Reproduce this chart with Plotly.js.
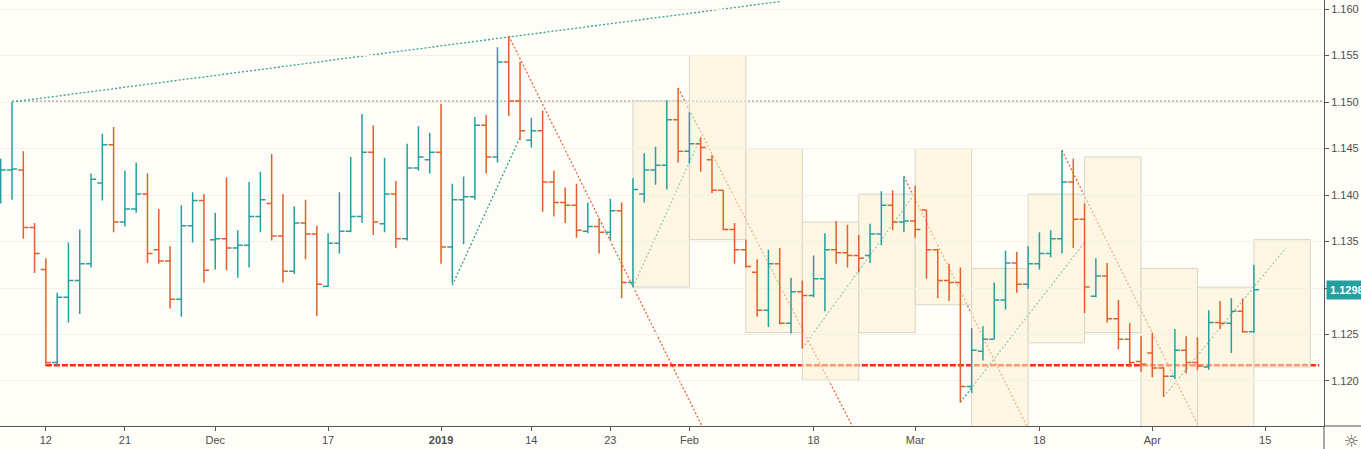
<!DOCTYPE html>
<html>
<head>
<meta charset="utf-8">
<script src="https://cdn.plot.ly/plotly-3.0.1.min.js"></script>
<style>
  html, body { margin: 0; padding: 0; background: #fffdf7; }
  #chart { width: 1361px; height: 449px; }
</style>
</head>
<body>
<div id="chart"></div>
<script>
// Daily EUR/USD bars
const dates = [
  '2018-11-06','2018-11-07','2018-11-08','2018-11-09',
  '2018-11-12','2018-11-13','2018-11-14','2018-11-15','2018-11-16',
  '2018-11-19','2018-11-20','2018-11-21','2018-11-22','2018-11-23',
  '2018-11-26','2018-11-27','2018-11-28','2018-11-29','2018-11-30',
  '2018-12-03','2018-12-04','2018-12-05','2018-12-06','2018-12-07',
  '2018-12-10','2018-12-11','2018-12-12','2018-12-13','2018-12-14',
  '2018-12-17','2018-12-18','2018-12-19','2018-12-20','2018-12-21',
  '2018-12-24','2018-12-26','2018-12-27','2018-12-28',
  '2018-12-31','2019-01-02','2019-01-03','2019-01-04',
  '2019-01-07','2019-01-08','2019-01-09','2019-01-10','2019-01-11',
  '2019-01-14','2019-01-15','2019-01-16','2019-01-17','2019-01-18',
  '2019-01-21','2019-01-22','2019-01-23','2019-01-24','2019-01-25',
  '2019-01-28','2019-01-29','2019-01-30','2019-01-31','2019-02-01',
  '2019-02-04','2019-02-05','2019-02-06','2019-02-07','2019-02-08',
  '2019-02-11','2019-02-12','2019-02-13','2019-02-14','2019-02-15',
  '2019-02-18','2019-02-19','2019-02-20','2019-02-21','2019-02-22',
  '2019-02-25','2019-02-26','2019-02-27','2019-02-28','2019-03-01',
  '2019-03-04','2019-03-05','2019-03-06','2019-03-07','2019-03-08',
  '2019-03-11','2019-03-12','2019-03-13','2019-03-14','2019-03-15',
  '2019-03-18','2019-03-19','2019-03-20','2019-03-21','2019-03-22',
  '2019-03-25','2019-03-26','2019-03-27','2019-03-28','2019-03-29',
  '2019-04-01','2019-04-02','2019-04-03','2019-04-04','2019-04-05',
  '2019-04-08','2019-04-09','2019-04-10','2019-04-11','2019-04-12'
];
const opens = [
  1.1408, 1.1427, 1.1427, 1.1365,
  1.1320, 1.1220, 1.1290, 1.1308, 1.1326,
  1.1413, 1.1454, 1.1371, 1.1385, 1.1401,
  1.1341, 1.1329, 1.1288, 1.1367, 1.1394,
  1.1352, 1.1353, 1.1343, 1.1346, 1.1377,
  1.1391, 1.1356, 1.1318, 1.1370, 1.1358,
  1.1302, 1.1348, 1.1361, 1.1377, 1.1446,
  1.1369, 1.1401, 1.1353, 1.1429,
  1.1438, 1.1446, 1.1344, 1.1395,
  1.1398, 1.1475, 1.1441, 1.1543, 1.1501,
  1.1459, 1.1469, 1.1414, 1.1392, 1.1389,
  1.1361, 1.1366, 1.1360, 1.1383, 1.1306,
  1.1401, 1.1427, 1.1432, 1.1481, 1.1447,
  1.1455, 1.1438, 1.1405, 1.1363, 1.1341,
  1.1317, 1.1276, 1.1326, 1.1262, 1.1296,
  1.1292, 1.1310, 1.1341, 1.1338, 1.1335,
  1.1335, 1.1358, 1.1389, 1.1371, 1.1372,
  1.1384, 1.1341, 1.1308, 1.1306, 1.1194,
  1.1232, 1.1245, 1.1287, 1.1327, 1.1304,
  1.1326, 1.1337, 1.1353, 1.1414, 1.1374,
  1.1291, 1.1313, 1.1267, 1.1245, 1.1221,
  1.1230, 1.1214, 1.1205, 1.1233, 1.1220,
  1.1215, 1.1263, 1.1262, 1.1275, 1.1253
];
const highs = [
  1.1439, 1.1500, 1.1447, 1.1370,
  1.1332, 1.1295, 1.1349, 1.1363, 1.1423,
  1.1466, 1.1473, 1.1426, 1.1435, 1.1423,
  1.1385, 1.1345, 1.1389, 1.1403, 1.1401,
  1.1381, 1.1419, 1.1362, 1.1414, 1.1425,
  1.1444, 1.1401, 1.1388, 1.1395, 1.1367,
  1.1359, 1.1403, 1.1441, 1.1487, 1.1475,
  1.1440, 1.1415, 1.1455, 1.1474,
  1.1467, 1.1498, 1.1412, 1.1420,
  1.1484, 1.1486, 1.1559, 1.1571, 1.1543,
  1.1483, 1.1491, 1.1426, 1.1408, 1.1412,
  1.1392, 1.1375, 1.1396, 1.1392, 1.1418,
  1.1445, 1.1452, 1.1502, 1.1515, 1.1489,
  1.1462, 1.1443, 1.1405, 1.1370, 1.1352,
  1.1331, 1.1341, 1.1343, 1.1311, 1.1308,
  1.1335, 1.1359, 1.1372, 1.1368, 1.1357,
  1.1369, 1.1404, 1.1405, 1.1420, 1.1410,
  1.1384, 1.1342, 1.1326, 1.1322, 1.1257,
  1.1259, 1.1306, 1.1340, 1.1339, 1.1345,
  1.1360, 1.1362, 1.1448, 1.1439, 1.1391,
  1.1332, 1.1327, 1.1287, 1.1262, 1.1248,
  1.1252, 1.1215, 1.1256, 1.1248, 1.1247,
  1.1276, 1.1286, 1.1289, 1.1289, 1.1325
];
const lows = [
  1.1391, 1.1395, 1.1353, 1.1316,
  1.1216, 1.1216, 1.1263, 1.1272, 1.1322,
  1.1394, 1.1360, 1.1366, 1.1381, 1.1327,
  1.1326, 1.1278, 1.1269, 1.1349, 1.1306,
  1.1320, 1.1319, 1.1311, 1.1322, 1.1360,
  1.1351, 1.1306, 1.1315, 1.1331, 1.1270,
  1.1301, 1.1337, 1.1360, 1.1370, 1.1357,
  1.1360, 1.1343, 1.1351, 1.1426,
  1.1423, 1.1326, 1.1305, 1.1347,
  1.1395, 1.1423, 1.1435, 1.1485, 1.1459,
  1.1451, 1.1382, 1.1377, 1.1370, 1.1354,
  1.1359, 1.1337, 1.1351, 1.1289, 1.1301,
  1.1392, 1.1411, 1.1406, 1.1435, 1.1434,
  1.1425, 1.1402, 1.1362, 1.1326, 1.1322,
  1.1269, 1.1258, 1.1261, 1.1251, 1.1235,
  1.1290, 1.1275, 1.1326, 1.1322, 1.1317,
  1.1327, 1.1346, 1.1362, 1.1360, 1.1354,
  1.1310, 1.1289, 1.1286, 1.1177, 1.1187,
  1.1222, 1.1245, 1.1277, 1.1295, 1.1299,
  1.1320, 1.1333, 1.1337, 1.1343, 1.1273,
  1.1290, 1.1263, 1.1234, 1.1215, 1.1210,
  1.1204, 1.1183, 1.1202, 1.1208, 1.1212,
  1.1212, 1.1256, 1.1230, 1.1252, 1.1252
];
const closes = [
  1.1427, 1.1428, 1.1365, 1.1337,
  1.1220, 1.1290, 1.1308, 1.1326, 1.1417,
  1.1454, 1.1371, 1.1385, 1.1401, 1.1337,
  1.1329, 1.1288, 1.1367, 1.1394, 1.1319,
  1.1353, 1.1343, 1.1346, 1.1377, 1.1395,
  1.1356, 1.1318, 1.1370, 1.1358, 1.1304,
  1.1348, 1.1361, 1.1377, 1.1446, 1.1371,
  1.1401, 1.1353, 1.1429, 1.1441,
  1.1446, 1.1344, 1.1395, 1.1398,
  1.1475, 1.1441, 1.1543, 1.1501, 1.1469,
  1.1469, 1.1414, 1.1392, 1.1389, 1.1362,
  1.1366, 1.1360, 1.1383, 1.1306, 1.1406,
  1.1427, 1.1432, 1.1481, 1.1447, 1.1455,
  1.1451, 1.1405, 1.1363, 1.1341, 1.1323,
  1.1276, 1.1326, 1.1262, 1.1296, 1.1292,
  1.1310, 1.1341, 1.1338, 1.1335, 1.1332,
  1.1358, 1.1389, 1.1371, 1.1372, 1.1363,
  1.1341, 1.1308, 1.1306, 1.1194, 1.1233,
  1.1245, 1.1287, 1.1327, 1.1304, 1.1326,
  1.1337, 1.1353, 1.1414, 1.1374, 1.1301,
  1.1313, 1.1267, 1.1245, 1.1220, 1.1218,
  1.1214, 1.1205, 1.1233, 1.1220, 1.1216,
  1.1263, 1.1262, 1.1275, 1.1253, 1.1298
];

// Drawings on the chart: [startDate, startPrice, endDate, endPrice]
const tealTrendLines = [
  ['2018-11-07', 1.1500, '2019-02-13', 1.1608],
  ['2019-01-03', 1.1303, '2019-01-11', 1.1462],
  ['2019-01-25', 1.1301, '2019-02-04', 1.1462],
  ['2019-02-15', 1.1235, '2019-03-01', 1.1402],
  ['2019-03-07', 1.1177, '2019-03-22', 1.1349],
  ['2019-04-02', 1.1183, '2019-04-16 20:00', 1.1343]
];
const orangeTrendLines = [
  ['2019-01-10', 1.1571, '2019-02-05', 1.1130],
  ['2019-01-31', 1.1515, '2019-02-22', 1.1138],
  ['2019-02-28', 1.1420, '2019-03-18', 1.1124],
  ['2019-03-20', 1.1448, '2019-04-08', 1.1129]
];
// Horizontal levels: [startDate, endDate, price]
const resistanceLevel = ['2018-11-07', '2019-05-01', 1.1501];
const supportLevel = ['2018-11-12', '2019-04-19 19:00', 1.1217];
// Weekly range boxes: [fromDate, toDate, low, high]
const weeklyBoxes = [
  ['2019-01-25', '2019-02-01', 1.1301, 1.1501],
  ['2019-02-01', '2019-02-08', 1.1352, 1.1550],
  ['2019-02-08', '2019-02-15', 1.1252, 1.1450],
  ['2019-02-15', '2019-02-22', 1.1201, 1.1371],
  ['2019-02-22', '2019-03-01', 1.1252, 1.1401],
  ['2019-03-01', '2019-03-08', 1.1282, 1.1450],
  ['2019-03-08', '2019-03-15', 1.1100, 1.1321],
  ['2019-03-15', '2019-03-22', 1.1241, 1.1401],
  ['2019-03-22', '2019-03-29', 1.1252, 1.1441],
  ['2019-03-29', '2019-04-05', 1.1100, 1.1321],
  ['2019-04-05', '2019-04-12', 1.1100, 1.1301],
  ['2019-04-12', '2019-04-19', 1.1215, 1.1352]
];

const tickDates = ['2018-11-12','2018-11-21','2018-12-03','2018-12-17','2019-01-02',
  '2019-01-14','2019-01-23','2019-02-01','2019-02-18','2019-03-01','2019-03-18',
  '2019-04-01','2019-04-15'];
const tickLabels = ['12','21','Dec','17','<b>2019</b>','14','23','Feb','18','Mar','18','Apr','15'];
const priceTicks = [1.120, 1.125, 1.130, 1.135, 1.140, 1.145, 1.150, 1.155, 1.160];
const holidays = ['2018-12-25', '2019-01-01'];
const lastPrice = closes[closes.length - 1];

const COLORS = {
  BG: '#fffdf7',
  UP: '#26a09e',
  DOWN: '#e0612a',
  TEAL_LINE: '#33a08f',
  ORANGE_LINE: '#e8653a',
  LEVEL: '#8a8a8a',
  SUPPORT: '#ff2d0a',
  BOX_FILL: 'rgba(252, 241, 210, 0.55)',
  BOX_EDGE: '#dad5c6',
  AXIS: '#555555',
  TEXT: '#4d4d4d',
  GRID: '#f3f0e5'
};
const FONT = 'Liberation Sans, Arial, sans-serif';

function segment(d0, p0, d1, p1, color, width, dash) {
  return {
    type: 'line', xref: 'x', yref: 'y', layer: 'below',
    x0: d0, y0: p0, x1: d1, y1: p1,
    line: { color: color, width: width, dash: dash }
  };
}

const shapes = [];
shapes.push(segment(resistanceLevel[0], resistanceLevel[2], resistanceLevel[1], resistanceLevel[2],
  COLORS.LEVEL, 1, '2px,2px'));
shapes.push(segment(supportLevel[0], supportLevel[2], supportLevel[1], supportLevel[2],
  COLORS.SUPPORT, 2.5, '6px,2px'));
tealTrendLines.forEach(l => shapes.push(segment(l[0], l[1], l[2], l[3], COLORS.TEAL_LINE, 1.3, '2px,2px')));
orangeTrendLines.forEach(l => shapes.push(segment(l[0], l[1], l[2], l[3], COLORS.ORANGE_LINE, 1.3, '2px,2px')));
weeklyBoxes.forEach(b => shapes.push({
  type: 'rect', xref: 'x', yref: 'y', layer: 'below',
  x0: b[0], x1: b[1], y0: b[2], y1: b[3],
  fillcolor: COLORS.BOX_FILL,
  line: { color: COLORS.BOX_EDGE, width: 1 }
}));
// axis lines carried past the plot corner, as in the price panel
shapes.push({ type: 'line', xref: 'paper', yref: 'paper', x0: 1, x1: 1, y0: 0, y1: -0.08,
  line: { color: COLORS.AXIS, width: 1 } });
shapes.push({ type: 'line', xref: 'paper', yref: 'paper', x0: 1, x1: 1.04, y0: 0, y1: 0,
  line: { color: COLORS.AXIS, width: 1 } });

const trace = {
  type: 'ohlc',
  x: dates, open: opens, high: highs, low: lows, close: closes,
  increasing: { line: { color: COLORS.UP, width: 1.5 } },
  decreasing: { line: { color: COLORS.DOWN, width: 1.5 } },
  tickwidth: 0.45,
  hoverinfo: 'skip',
  showlegend: false
};

const layout = {
  width: 1361, height: 449, autosize: false,
  margin: { l: 0, r: 37, t: 0, b: 23, pad: 0 },
  paper_bgcolor: COLORS.BG,
  plot_bgcolor: COLORS.BG,
  showlegend: false,
  xaxis: {
    type: 'date',
    range: ['2018-11-05 22:30', '2019-04-22 05:00'],
    rangebreaks: [{ bounds: ['sat', 'mon'] }, { values: holidays }],
    rangeslider: { visible: false },
    tickmode: 'array', tickvals: tickDates, ticktext: tickLabels,
    showgrid: false, zeroline: false,
    showline: true, linecolor: COLORS.AXIS, linewidth: 1,
    ticks: 'outside', ticklen: 4, tickcolor: COLORS.AXIS,
    tickfont: { family: FONT, size: 11, color: COLORS.TEXT },
    fixedrange: true
  },
  yaxis: {
    side: 'right',
    range: [1.11516, 1.16097],
    tickmode: 'array', tickvals: priceTicks,
    ticktext: priceTicks.map(v => v.toFixed(3)),
    showgrid: true, gridcolor: COLORS.GRID, gridwidth: 1,
    zeroline: false,
    showline: true, linecolor: COLORS.AXIS, linewidth: 1,
    ticks: 'outside', ticklen: 4, tickcolor: COLORS.AXIS,
    tickfont: { family: FONT, size: 11, color: COLORS.TEXT },
    fixedrange: true
  },
  shapes: shapes,
  annotations: [
    {
      xref: 'paper', yref: 'y', x: 1, y: lastPrice,
      xanchor: 'left', yanchor: 'middle', xshift: 2,
      text: '<b>' + lastPrice.toFixed(4) + '</b>',
      showarrow: false,
      bgcolor: COLORS.UP, borderpad: 3,
      font: { family: FONT, size: 11, color: '#ffffff' }
    },
    {
      xref: 'paper', yref: 'paper', x: 1.0211, y: -0.035,
      xanchor: 'center', yanchor: 'middle',
      text: '☼', showarrow: false,
      font: { family: 'DejaVu Sans', size: 17, color: COLORS.AXIS }
    }
  ]
};

Plotly.newPlot('chart', [trace], layout, { displayModeBar: false, staticPlot: true });
</script>
</body>
</html>
